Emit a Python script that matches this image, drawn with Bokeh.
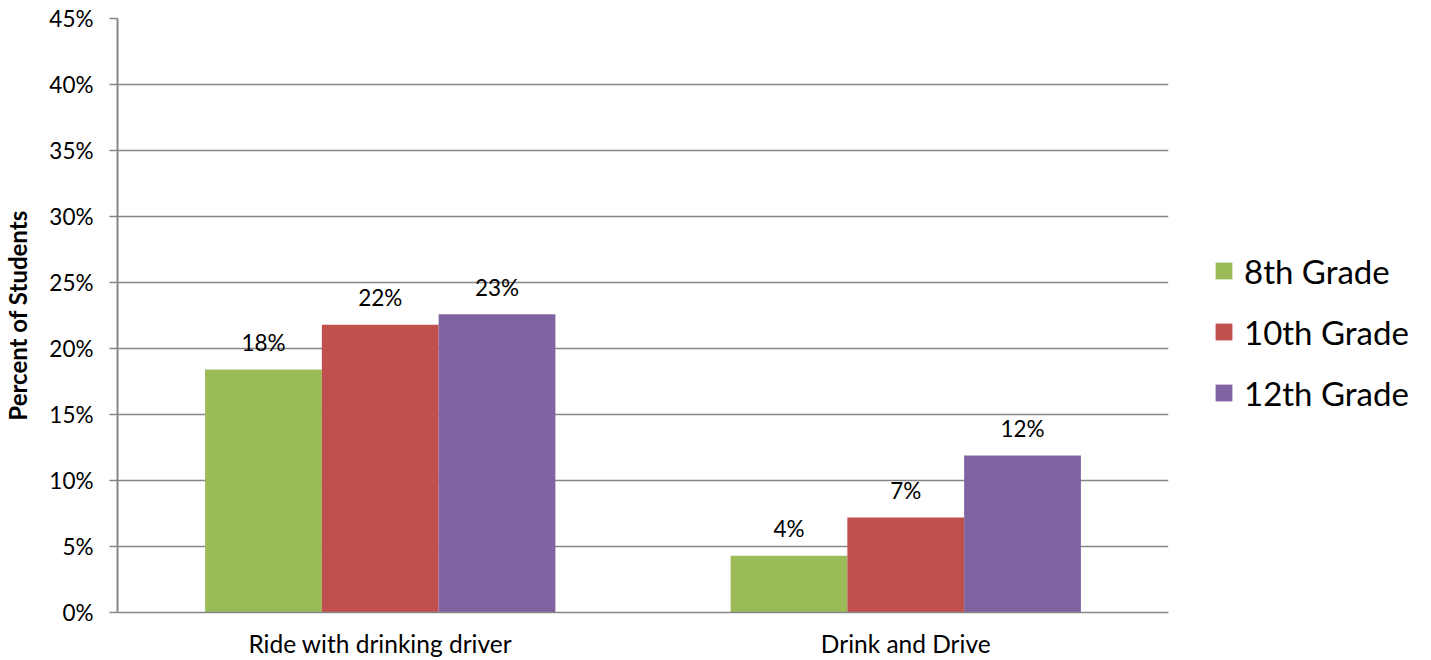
from bokeh.plotting import figure
from bokeh.layouts import row
from bokeh.models import ColumnDataSource, FactorRange, Range1d, NumeralTickFormatter, Legend, LegendItem, FixedTicker
from bokeh.transform import dodge
from bokeh.core.properties import value
from bokeh.embed import file_html
from bokeh.resources import INLINE

categories = ["Ride with drinking driver", "Drink and Drive"]
grades = ["8th Grade", "10th Grade", "12th Grade"]
grade8 = [0.184, 0.043]
grade10 = [0.218, 0.072]
grade12 = [0.226, 0.119]
colors = ["#9BBB59", "#C0504D", "#8064A2"]
yticks = [0, 0.05, 0.10, 0.15, 0.20, 0.25, 0.30, 0.35, 0.40, 0.45]

FONT = "Lato"
H = 660

src = ColumnDataSource(dict(cat=categories, g8=grade8, g10=grade10, g12=grade12,
                            l8=[f"{round(v*100)}%" for v in grade8],
                            l10=[f"{round(v*100)}%" for v in grade10],
                            l12=[f"{round(v*100)}%" for v in grade12]))

p = figure(x_range=FactorRange(*categories, range_padding=0), y_range=Range1d(0, 0.45),
           width=1175, height=H, output_backend="svg", toolbar_location=None,
           min_border_left=115, min_border_right=7, min_border_top=18, min_border_bottom=48)
p.outline_line_color = None
p.background_fill_color = "white"

bw = 0.2222
offs = [-bw, 0, bw]
keys = ["g8", "g10", "g12"]
lkeys = ["l8", "l10", "l12"]
for k, lk, off, c in zip(keys, lkeys, offs, colors):
    p.vbar(x=dodge("cat", off, range=p.x_range), top=k, width=bw, source=src,
           fill_color=c, line_color=None)
    p.text(x=dodge("cat", off, range=p.x_range), y=k, text=lk, source=src,
           text_align="center", text_baseline="alphabetic", y_offset=-27,
           text_font=value(FONT), text_font_size="22.5px", text_color="#000000")

# axes
p.yaxis.ticker = FixedTicker(ticks=yticks)
p.yaxis.formatter = NumeralTickFormatter(format="0%")
p.yaxis.axis_line_color = "#868686"
p.yaxis.axis_line_width = 2
p.yaxis.major_tick_line_color = "#868686"
p.yaxis.major_tick_line_width = 1.5
p.yaxis.major_tick_out = 8
p.yaxis.major_tick_in = 0
p.yaxis.minor_tick_line_color = None
p.yaxis.major_label_text_font = FONT
p.yaxis.major_label_text_font_size = "22.5px"
p.yaxis.major_label_text_color = "#000000"
p.yaxis.major_label_standoff = 16
p.yaxis.axis_label = "Percent of Students"
p.yaxis.axis_label_text_font = FONT
p.yaxis.axis_label_text_font_size = "24px"
p.yaxis.axis_label_text_font_style = "bold"
p.yaxis.axis_label_text_color = "#000000"
p.yaxis.axis_label_standoff = 14

p.xaxis.axis_line_color = "#868686"
p.xaxis.axis_line_width = 1.5
p.xaxis.major_tick_line_color = None
p.xaxis.minor_tick_line_color = None
p.xaxis.major_label_text_font = FONT
p.xaxis.major_label_text_font_size = "24.5px"
p.xaxis.major_label_text_color = "#000000"
p.xaxis.major_label_standoff = 10

p.xgrid.grid_line_color = None
p.ygrid.grid_line_color = "#868686"
p.ygrid.grid_line_width = 1.5

# legend panel as a separate figure
lg = figure(width=250, height=H, output_backend="svg", toolbar_location=None,
            x_range=Range1d(0, 1), y_range=Range1d(0, 1),
            min_border_left=0, min_border_right=0, min_border_top=0, min_border_bottom=0)
lg.axis.visible = False
lg.grid.grid_line_color = None
lg.outline_line_color = None
offscreen = ColumnDataSource(dict(x=[5], top=[5]))
lrs = [lg.vbar(x="x", top="top", width=0.1, source=offscreen, fill_color=c, line_color=None)
       for c in colors]
legend = Legend(items=[LegendItem(label=g, renderers=[r]) for g, r in zip(grades, lrs)],
                location=(38, 189))
legend.glyph_width = 21
legend.glyph_height = 21
legend.label_height = 61
legend.spacing = 0
legend.padding = 0
legend.margin = 0
legend.label_standoff = 10
legend.label_text_font = FONT
legend.label_text_font_size = "33px"
legend.label_text_color = "#000000"
legend.border_line_color = None
legend.background_fill_alpha = 0
lg.add_layout(legend, "center")

layout = row(p, lg)
open("out.html", "w").write(file_html(layout, INLINE))
